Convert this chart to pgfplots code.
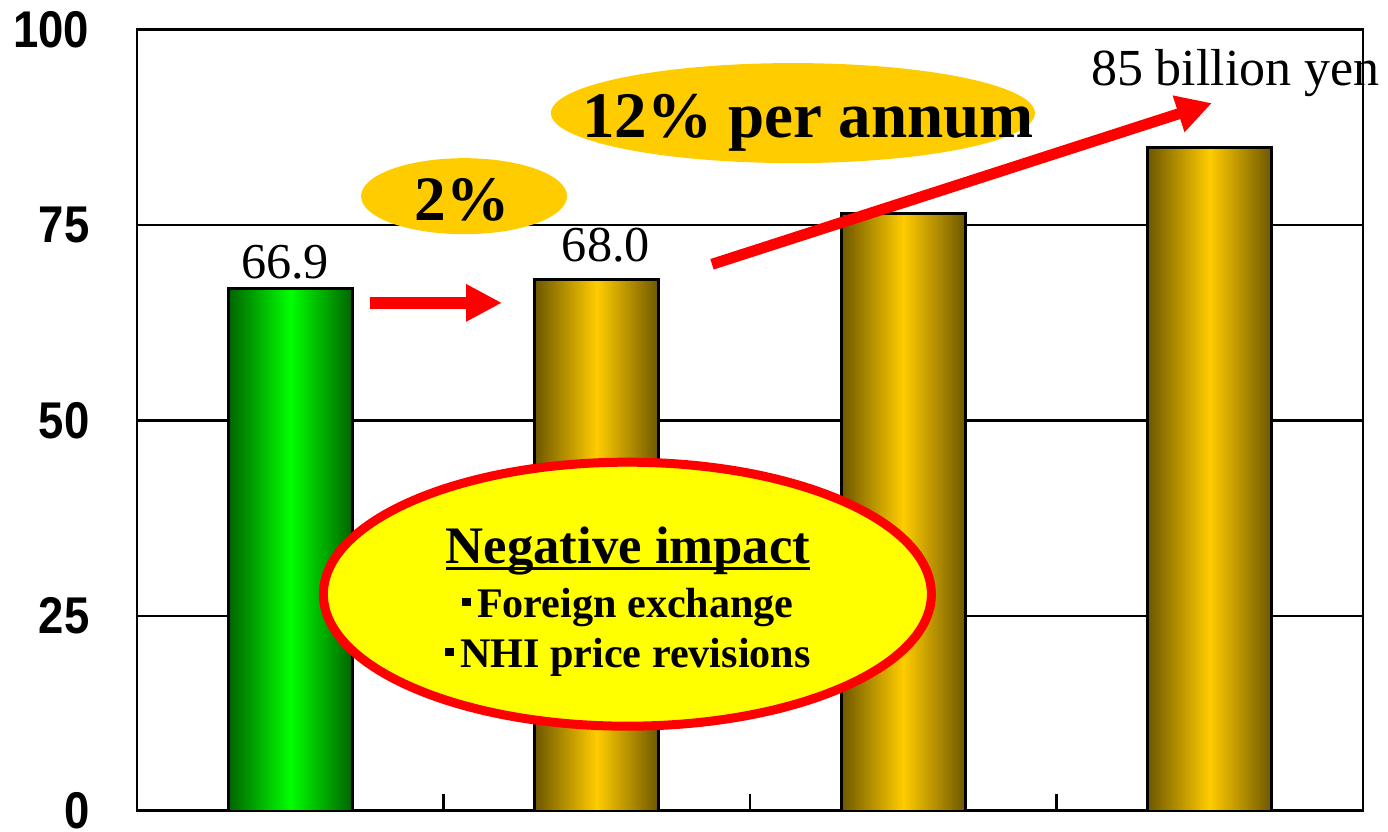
\documentclass[border=0pt]{standalone}
\usepackage{pgfplots}
\pgfplotsset{compat=1.18}
\usetikzlibrary{arrows.meta}
\usepackage{fontspec}
\setmainfont{Liberation Serif}
\newfontfamily\tickfont[FakeStretch=0.88]{Liberation Sans}
\definecolor{golddark}{HTML}{6E5700}
\definecolor{goldlight}{HTML}{FFCC00}
\definecolor{greendark}{HTML}{006400}
\definecolor{greenlight}{HTML}{00FF00}
\definecolor{ellgold}{HTML}{FFCC00}
\definecolor{ellyellow}{HTML}{FFFF00}
\definecolor{arrred}{HTML}{FF0000}
\newcommand\myul[1]{\setbox0\hbox{#1}\rlap{\rule[-0.12em]{\wd0}{0.06em}}\box0}
\newcommand\sq{\rule[0.28em]{0.2em}{0.2em}\hspace{0.15em}}
\begin{document}
\begin{tikzpicture}
\path[use as bounding box] (0,0) rectangle (138.8mm,83.2mm);
\begin{axis}[
  at={(13.7mm,2.1mm)}, anchor=south west,
  scale only axis, width=122.6mm, height=78.1mm,
  xmin=-0.5, xmax=3.5, ymin=0, ymax=100,
  clip=false,
  axis line style={black, line width=0.85pt},
  xtick={0.5,1.5,2.5}, xticklabels={,,},
  xtick pos=left,
  tick align=inside,
  major tick length=1.7mm,
  xtick style={black, line width=0.85pt},
  ytick={0,25,50,75,100},
  yticklabels={0,25,50,75,100},
  ytick style={draw=none},
  ytick pos=left,
  ymajorgrids,
  major grid style={black, line width=0.6pt},
  yticklabel style={anchor=east, inner sep=0pt, xshift=-4.7mm,
    font=\tickfont\bfseries\fontsize{14.7}{16}\selectfont},
]
\addplot[ybar, bar width=12.4mm, bar shift=0pt, draw=black, line width=0.8pt,
  left color=greendark, right color=greendark, middle color=greenlight]
  coordinates {(0,66.9)};
\addplot[ybar, bar width=12.4mm, bar shift=0pt, draw=black, line width=0.8pt,
  left color=golddark, right color=golddark, middle color=goldlight]
  coordinates {(1,68.0)};
\addplot[ybar, bar width=12.4mm, bar shift=0pt, draw=black, line width=0.8pt,
  left color=golddark, right color=golddark, middle color=goldlight]
  coordinates {(2,76.5)};
\addplot[ybar, bar width=12.4mm, bar shift=0pt, draw=black, line width=0.8pt,
  left color=golddark, right color=golddark, middle color=goldlight]
  coordinates {(3,85.0)};

% bar value labels
\node[anchor=base, font=\fontsize{14.3}{16}\selectfont] at (axis cs:-0.017,68.2) {66.9};
\node[anchor=base, font=\fontsize{14.3}{16}\selectfont] at (axis cs:1.030,70.3) {68.0};
\node[anchor=base, font=\fontsize{14.8}{16}\selectfont] at (axis cs:3.084,92.95) {85 billion yen};

% growth ellipses
\fill[ellgold] (axis cs:1.640,89.36) ellipse [x radius=24.2mm, y radius=5mm];
\node[anchor=base, font=\bfseries\fontsize{18.5}{20}\selectfont] at (axis cs:1.689,86.28) {12\% per annum};
\fill[ellgold] (axis cs:0.567,78.72) ellipse [x radius=10.3mm, y radius=3.8mm];
\node[anchor=base, font=\bfseries\fontsize{18}{20}\selectfont] at (axis cs:0.560,75.64) {2\%};

% arrows
\draw[arrred, line width=1.15mm, -{Triangle[length=3.6mm, width=3.5mm]}]
  (axis cs:0.260,65.06) -- (axis cs:0.691,65.06);
\draw[arrred, line width=1.1mm, -{Triangle[length=3.5mm, width=3.6mm]}]
  (axis cs:1.376,70.0) -- (axis cs:3.007,90.64);

% negative impact ellipse
\filldraw[fill=ellyellow, draw=arrred, line width=0.9mm] (axis cs:1.100,27.76) ellipse [x radius=30.4mm, y radius=13.2mm];
\node[anchor=base, font=\bfseries\fontsize{15}{17}\selectfont] at (axis cs:1.102,31.67) {\myul{Negative impact}};
\node[anchor=base, font=\bfseries\fontsize{12}{14}\selectfont] at (axis cs:1.102,24.74) {\sq Foreign exchange};
\node[anchor=base, font=\bfseries\fontsize{12}{14}\selectfont] at (axis cs:1.102,18.33) {\sq NHI price revisions};
\end{axis}
\end{tikzpicture}
\end{document}
